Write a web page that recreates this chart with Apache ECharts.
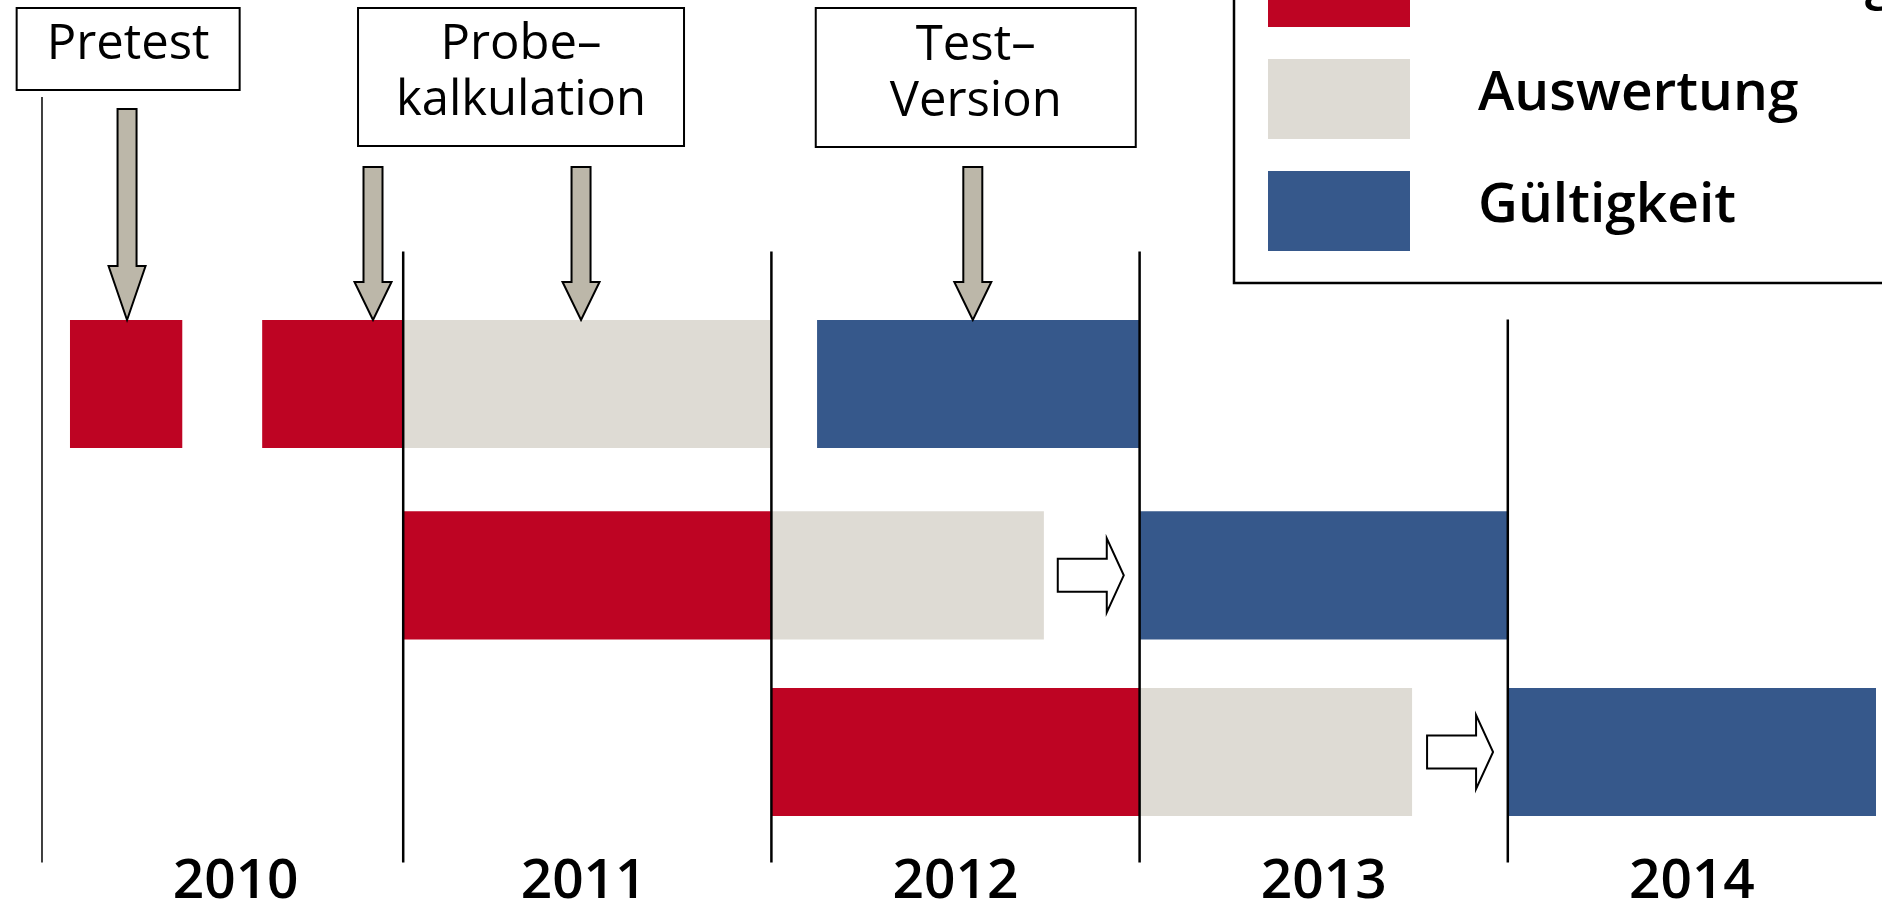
<!DOCTYPE html>
<html>
<head>
<meta charset="utf-8">
<title>Zeitplan</title>
<script src="https://cdn.jsdelivr.net/npm/echarts@6/dist/echarts.min.js"></script>
<style>
  html, body { margin: 0; padding: 0; background: #fff; }
  #chart { width: 1882px; height: 906px; }
</style>
</head>
<body>
<div id="chart"></div>
<script>
// phasen (legende)
var phaseNames = ['Datenerhebung', 'Auswertung', 'Gültigkeit'];
var phaseColors = ['#be0423', '#dedbd4', '#36588b'];

// balken: zeile, beginn, ende (in jahren), phase
var rowLanes = [1, 2.04, 3];
var barRow   = [0, 0, 0, 0, 1, 1, 1, 2, 2, 2];
var barStart = [2010.095, 2010.617, 2011, 2012.124, 2011, 2012, 2013, 2012, 2013, 2014];
var barEnd   = [2010.40, 2011, 2012, 2013, 2012, 2012.74, 2014, 2013, 2013.74, 2015];
var barPhase = [0, 0, 1, 2, 0, 1, 2, 0, 1, 2];

// jahre
var years = ['2010', '2011', '2012', '2013', '2014'];
var yearLabelX = [2010.545, 2011.49, 2012.5, 2013.5, 2014.5];
var yearLineX = [2010.019, 2011, 2012, 2013, 2014];
var yearLineTop = [-0.56, 0.28, 0.28, 0.28, 0.65];

// meilensteine (kästen + pfeile)
var boxText = ['Pretest', 'Probe–\nkalkulation', 'Test–\nVersion'];
var boxX = [2010.253, 2011.32, 2012.555];
var boxW = [223, 326, 320];
var boxH = [82, 138, 139];
var arrowX = [2010.25, 2010.918, 2011.483, 2012.547];
var arrowTop = [-0.495, -0.179, -0.179, -0.179];
var arrowHead = [54, 38, 38, 38];

// übergang auswertung -> gültigkeit
var passX = [2012.957, 2013.96];
var passRow = [1, 2];

var barHalf = 0.348;
var chart = echarts.init(document.getElementById('chart'));

function barSeries(p) {
  var data = [];
  for (var i = 0; i < barRow.length; i++) {
    if (barPhase[i] === p) data.push([barStart[i], barEnd[i], rowLanes[barRow[i]]]);
  }
  return {
    name: phaseNames[p],
    type: 'custom',
    clip: false,
    itemStyle: { color: phaseColors[p] },
    encode: { x: [0, 1], y: 2 },
    data: data,
    renderItem: function (params, api) {
      var a = api.coord([api.value(0), api.value(2)]);
      var b = api.coord([api.value(1), api.value(2)]);
      var h = api.size([0, barHalf * 2])[1];
      return {
        type: 'rect',
        shape: { x: a[0], y: a[1] - h / 2, width: b[0] - a[0], height: h },
        style: { fill: api.visual('color') }
      };
    }
  };
}

var series = [barSeries(0), barSeries(1), barSeries(2)];

// senkrechte jahreslinien
series.push({
  type: 'custom',
  clip: false,
  data: yearLineX.map(function (x, i) { return [x, yearLineTop[i], 3.6, i === 0 ? 1.5 : 2.5]; }),
  renderItem: function (params, api) {
    var a = api.coord([api.value(0), api.value(1)]);
    var b = api.coord([api.value(0), api.value(2)]);
    return {
      type: 'line',
      shape: { x1: a[0], y1: a[1], x2: b[0], y2: b[1] },
      style: { stroke: '#000', lineWidth: api.value(3) }
    };
  }
});

// jahreszahlen
series.push({
  type: 'custom',
  clip: false,
  data: yearLabelX.map(function (x) { return [x, 3.707]; }),
  renderItem: function (params, api) {
    var p = api.coord([api.value(0), api.value(1)]);
    return {
      type: 'text',
      x: p[0], y: p[1],
      style: {
        text: years[params.dataIndex],
        font: '600 55px "Open Sans"',
        fill: '#000', align: 'center', verticalAlign: 'middle'
      }
    };
  }
});

// graue pfeile nach unten
series.push({
  type: 'custom',
  clip: false,
  data: arrowX.map(function (x, i) { return [x, arrowTop[i], arrowHead[i]]; }),
  renderItem: function (params, api) {
    var top = api.coord([api.value(0), api.value(1)]);
    var tip = api.coord([api.value(0), rowLanes[0] - barHalf]);
    var x = tip[0], hb = tip[1] - api.value(2);
    var sw = 9.5, hw = 18.5;
    return {
      type: 'polygon',
      shape: { points: [[x - sw, top[1]], [x + sw, top[1]], [x + sw, hb], [x + hw, hb], [x, tip[1]], [x - hw, hb], [x - sw, hb]] },
      style: { fill: '#bcb7a9', stroke: '#000', lineWidth: 2 }
    };
  }
});

// weiße pfeile nach rechts
series.push({
  type: 'custom',
  clip: false,
  data: passX.map(function (x, i) { return [x, rowLanes[passRow[i]]]; }),
  renderItem: function (params, api) {
    var t = api.coord([api.value(0), api.value(1)]);
    var x = t[0], y = t[1];
    var len = 66, head = 17, bh = 16.5, hh = 37;
    return {
      type: 'polygon',
      shape: { points: [[x - len, y - bh], [x - head, y - bh], [x - head, y - hh], [x, y], [x - head, y + hh], [x - head, y + bh], [x - len, y + bh]] },
      style: { fill: '#fff', stroke: '#000', lineWidth: 2 }
    };
  }
});

// kästen mit text
series.push({
  type: 'custom',
  clip: false,
  data: boxX.map(function (x) { return [x, -1.043]; }),
  renderItem: function (params, api) {
    var i = params.dataIndex;
    var p = api.coord([api.value(0), api.value(1)]);
    var w = boxW[i], h = boxH[i];
    return {
      type: 'group',
      children: [{
        type: 'rect',
        shape: { x: p[0] - w / 2, y: p[1], width: w, height: h },
        style: { fill: '#fff', stroke: '#000', lineWidth: 2 }
      }, {
        type: 'text',
        x: p[0], y: p[1] + h / 2 - 4,
        style: {
          text: boxText[i],
          font: '400 49px "Open Sans"',
          lineHeight: 56,
          fill: '#000', align: 'center', verticalAlign: 'middle'
        }
      }]
    };
  }
});

var option = {
  animation: false,
  backgroundColor: '#fff',
  grid: { left: 35, width: 1841, top: 0, height: 906 },
  xAxis: { type: 'value', min: 2010, max: 2015, show: false },
  yAxis: { type: 'value', min: -1.087, max: 3.837, inverse: true, show: false },
  legend: {
    orient: 'vertical',
    left: 1234, top: -85,
    padding: [32, 300, 32, 34],
    itemWidth: 142, itemHeight: 80, itemGap: 32,
    borderColor: '#000', borderWidth: 2.5,
    icon: 'rect',
    selectedMode: false,
    itemStyle: { borderWidth: 0 },
    formatter: '{t|{name}}',
    textStyle: {
      padding: [0, 0, 0, 63],
      rich: {
        t: { fontFamily: 'Open Sans', fontSize: 55, fontWeight: 600, color: '#000', padding: [0, 0, 9, 0] }
      }
    },
    data: phaseNames
  },
  series: series
};

chart.setOption(option);
</script>
</body>
</html>
